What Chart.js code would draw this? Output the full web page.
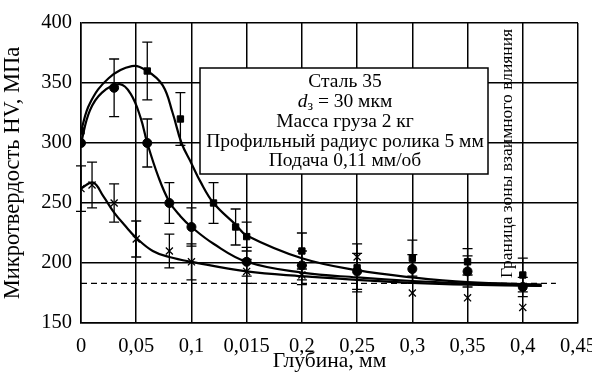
<!DOCTYPE html>
<html>
<head>
<meta charset="utf-8">
<script src="https://cdn.jsdelivr.net/npm/chart.js@4.4.0/dist/chart.umd.min.js"></script>
<style>
  html, body { margin: 0; padding: 0; background: #fff; }
  #wrap { width: 592px; height: 374px; }
</style>
</head>
<body>
<div id="wrap"><canvas id="myChart" width="592" height="374"></canvas></div>
<script>
// подписи оси X (как в оригинале, включая "0,015")
const xTickLabels = ['0', '0,05', '0,1', '0,015', '0,2', '0,25', '0,3', '0,35', '0,4', '0,45'];

// квадраты
const squareX = [0, 0.06, 0.09, 0.12, 0.14, 0.15, 0.2, 0.25, 0.3, 0.35, 0.4];
const squareY = [310, 360, 320, 250, 230, 222, 210, 196, 204, 201, 190];
const squareErr = [0, 24, 22, 17, 15, 12, 15, 20, 15, 11, 14];

// кружки
const circleX = [0, 0.03, 0.06, 0.08, 0.1, 0.15, 0.2, 0.25, 0.3, 0.35, 0.4];
const circleY = [300, 346, 300, 250, 230, 201, 198, 193, 195, 193, 180];
const circleErr = [0, 24, 20, 17, 16, 12, 12, 15, 12, 13, 8];

// крестики
const crossX = [0, 0.01, 0.03, 0.05, 0.08, 0.1, 0.15, 0.2, 0.25, 0.3, 0.35, 0.4];
const crossY = [262, 265, 250, 220, 210, 201, 193, 190, 205, 175, 171, 163];
const crossErr = [19, 19, 16, 15, 14, 15, 10, 8, 0, 0, 0, 0];

// аппроксимирующие кривые
const squareCurveX = [0, 0.008, 0.025, 0.046, 0.06, 0.074, 0.083, 0.091, 0.1, 0.108, 0.12, 0.14, 0.15, 0.2, 0.25, 0.3, 0.35, 0.417];
const squareCurveY = [310, 333, 354, 364, 360, 348, 325, 300, 283, 268, 250, 232, 223, 204, 194, 188, 184, 182];
const circleCurveX = [0, 0.008, 0.019, 0.035, 0.045, 0.054, 0.06, 0.07, 0.08, 0.09, 0.1, 0.12, 0.15, 0.2, 0.25, 0.3, 0.35, 0.417];
const circleCurveY = [300, 327, 342, 349, 341, 321, 300, 272, 251, 239, 230, 216, 201, 192, 188, 185, 183, 181];
const crossCurveX = [0, 0.011, 0.02, 0.03, 0.04, 0.05, 0.065, 0.08, 0.1, 0.15, 0.2, 0.25, 0.3, 0.35, 0.417];
const crossCurveY = [262, 267, 256, 242, 231, 221, 210, 205, 201, 193, 189, 186, 183.5, 182, 181];

// пунктир и граница зоны
const dashX = [0, 0.43];
const dashY = [183, 183];
const zoneX = 0.4;

const boxLines = ['Сталь 35', '', 'Масса груза 2 кг', 'Профильный радиус ролика 5 мм', 'Подача 0,11 мм/об'];
const zoneLabel = 'Граница зоны взаимного влияния';

const serif = "'Liberation Serif', 'Times New Roman', serif";

const toPts = (xs, ys) => xs.map((x, i) => ({ x: x, y: ys[i] }));

const curveStyle = {
  showLine: true, borderColor: '#000', borderWidth: 2.2, pointRadius: 0,
  tension: 0.4, fill: false
};

const extrasPlugin = {
  id: 'extras',
  beforeDatasetsDraw(chart) {
    const ctx = chart.ctx;
    const xs = chart.scales.x, ys = chart.scales.y;
    const groups = [[squareX, squareY, squareErr], [circleX, circleY, circleErr], [crossX, crossY, crossErr]];
    ctx.save();
    ctx.strokeStyle = '#000';
    ctx.lineWidth = 1.3;
    groups.forEach(([gx, gy, ge]) => {
      gx.forEach((x, i) => {
        if (!ge[i]) return;
        const px = xs.getPixelForValue(x);
        const t = ys.getPixelForValue(gy[i] + ge[i]);
        const b = ys.getPixelForValue(gy[i] - ge[i]);
        ctx.beginPath();
        ctx.moveTo(px, t); ctx.lineTo(px, b);
        ctx.moveTo(px - 5, t); ctx.lineTo(px + 5, t);
        ctx.moveTo(px - 5, b); ctx.lineTo(px + 5, b);
        ctx.stroke();
      });
    });
    ctx.restore();
  },
  afterDraw(chart) {
    const ctx = chart.ctx;
    const xs = chart.scales.x, ys = chart.scales.y;
    ctx.save();
    // рамка с параметрами
    const bx = 200, by = 68, bw = 288, bh = 106;
    ctx.fillStyle = '#fff';
    ctx.fillRect(bx, by, bw, bh);
    ctx.strokeStyle = '#000';
    ctx.lineWidth = 1.5;
    ctx.strokeRect(bx, by, bw, bh);
    ctx.fillStyle = '#000';
    ctx.textAlign = 'center';
    ctx.textBaseline = 'middle';
    const fs = 19.5;
    ctx.font = fs + 'px ' + serif;
    const cx = bx + bw / 2 + 1;
    boxLines.forEach((line, i) => {
      const y = by + 14 + i * 19.8;
      if (line) {
        ctx.fillText(line, cx, y);
      } else {
        ctx.textAlign = 'left';
        ctx.font = 'italic ' + fs + 'px ' + serif;
        const w1 = ctx.measureText('d').width;
        ctx.font = '14px ' + serif;
        const w2 = ctx.measureText('з').width;
        ctx.font = fs + 'px ' + serif;
        const rest = ' = 30 мкм';
        const w3 = ctx.measureText(rest).width;
        let x0 = cx - (w1 + w2 + w3) / 2;
        ctx.font = 'italic ' + fs + 'px ' + serif;
        ctx.fillText('d', x0, y);
        ctx.font = '14px ' + serif;
        ctx.fillText('з', x0 + w1, y + 5);
        ctx.font = fs + 'px ' + serif;
        ctx.fillText(rest, x0 + w1 + w2, y);
        ctx.textAlign = 'center';
      }
    });
    // надпись у границы зоны
    const zx = xs.getPixelForValue(zoneX) - 11;
    const zy = 278;
    ctx.translate(zx, zy);
    ctx.rotate(-Math.PI / 2);
    ctx.textAlign = 'left';
    ctx.textBaseline = 'alphabetic';
    ctx.font = '17.5px ' + serif;
    ctx.fillText(zoneLabel, 0, 0);
    ctx.restore();
  }
};

new Chart(document.getElementById('myChart').getContext('2d'), {
  type: 'scatter',
  data: {
    datasets: [
      Object.assign({ data: toPts(squareCurveX, squareCurveY) }, curveStyle),
      Object.assign({ data: toPts(circleCurveX, circleCurveY) }, curveStyle),
      Object.assign({ data: toPts(crossCurveX, crossCurveY) }, curveStyle),
      {
        data: toPts(dashX, dashY), showLine: true, borderColor: '#000', borderWidth: 1.3,
        borderDash: [6, 4], pointRadius: 0
      },
      {
        data: toPts(squareX, squareY), pointStyle: 'rect', pointRadius: 4.5,
        backgroundColor: '#000', borderColor: '#000'
      },
      {
        data: toPts(circleX, circleY), pointStyle: 'circle', pointRadius: 4.5,
        backgroundColor: '#000', borderColor: '#000'
      },
      {
        data: toPts(crossX, crossY), pointStyle: 'crossRot', pointRadius: 5,
        borderWidth: 1.3, backgroundColor: '#000', borderColor: '#000'
      }
    ]
  },
  options: {
    responsive: false,
    animation: false,
    events: [],
    layout: { padding: { top: 23, right: 14, left: 0, bottom: 0 } },
    plugins: { legend: { display: false }, tooltip: { enabled: false } },
    scales: {
      x: {
        type: 'linear', min: 0, max: 0.45,
        afterFit: s => { s.height = 51; s.paddingLeft = 0; s.paddingRight = 0; },
        afterBuildTicks: s => { s.ticks = xTickLabels.map((t, i) => ({ value: i * 0.05 })); },
        grid: { color: '#000', lineWidth: 1.5, drawTicks: false },
        border: { color: '#000', width: 1.5 },
        ticks: {
          color: '#000', padding: 11,
          font: { family: serif, size: 20.5 },
          callback: (v, i) => xTickLabels[i]
        },
        title: {
          display: true, text: 'Глубина, мм', color: '#000',
          font: { family: serif, size: 21.5 }, padding: { top: -4, bottom: 0 }
        }
      },
      y: {
        min: 150, max: 400,
        afterFit: s => { s.width = 81; s.paddingTop = 0; s.paddingBottom = 0; },
        grid: { color: '#000', lineWidth: 1.5, drawTicks: false },
        border: { color: '#000', width: 1.5 },
        ticks: {
          color: '#000', stepSize: 50, padding: 9,
          font: { family: serif, size: 20.5 }
        },
        title: {
          display: true, text: 'Микротвердость HV, МПа', color: '#000',
          font: { family: serif, size: 22.5 }, padding: { top: 0, bottom: 2 }
        }
      }
    }
  },
  plugins: [extrasPlugin]
});
</script>
</body>
</html>
